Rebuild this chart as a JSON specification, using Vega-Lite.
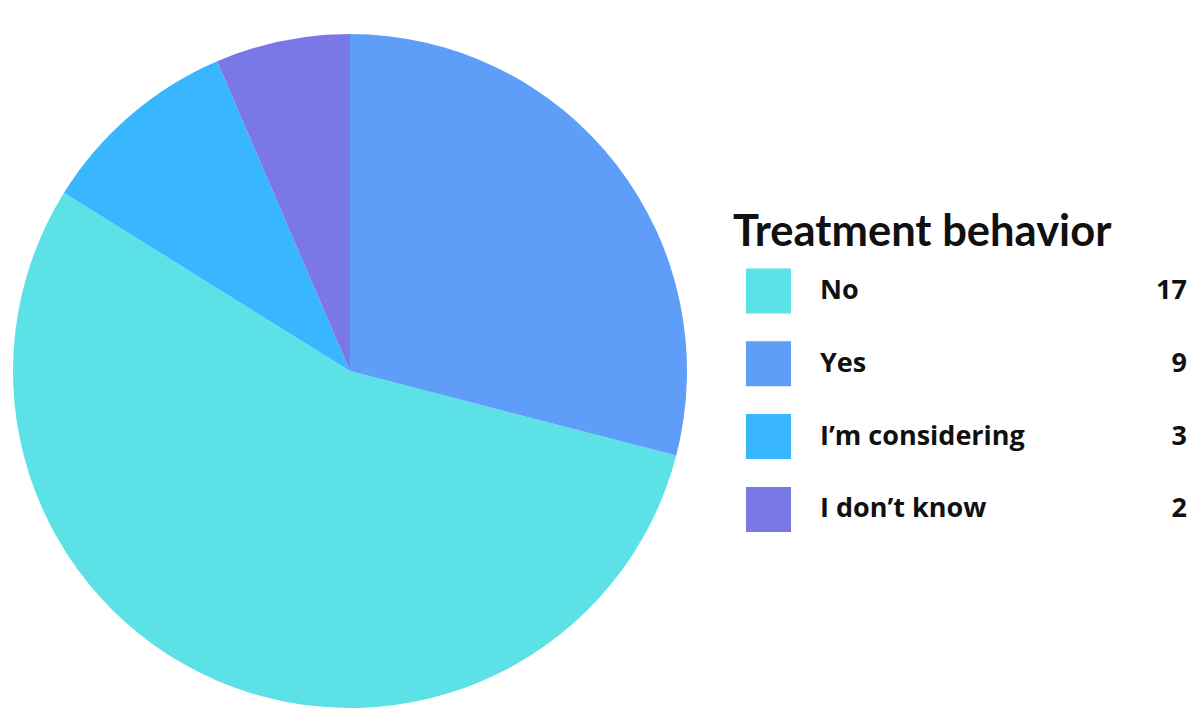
{
  "$schema": "https://vega.github.io/schema/vega-lite/v6.json",
  "padding": 0,
  "background": "white",
  "spacing": 33,
  "config": {"view": {"stroke": null}, "font": "Open Sans"},
  "data": {
    "values": [
      {"category": "No", "count": 17},
      {"category": "Yes", "count": 9},
      {"category": "I’m considering", "count": 3},
      {"category": "I don’t know", "count": 2}
    ]
  },
  "hconcat": [
    {
      "width": 700,
      "height": 742,
      "transform": [
        {"calculate": "indexof(['Yes','No','I’m considering','I don’t know'], datum.category)", "as": "pieOrder"}
      ],
      "mark": {"type": "arc", "outerRadius": 337},
      "encoding": {
        "theta": {"field": "count", "type": "quantitative", "stack": true},
        "order": {"field": "pieOrder", "type": "quantitative", "sort": "ascending"},
        "color": {
          "field": "category",
          "type": "nominal",
          "scale": {
            "domain": ["No", "Yes", "I’m considering", "I don’t know"],
            "range": ["#5CE1E6", "#5E9EF8", "#38B6FF", "#7978E6"]
          },
          "legend": null
        }
      }
    },
    {
      "width": 462,
      "height": 742,
      "title": {
        "text": "Treatment behavior",
        "anchor": "start",
        "fontSize": 43.5,
        "fontWeight": "bold",
        "font": "Lato",
        "color": "#111111",
        "baseline": "alphabetic",
        "offset": -289
      },
      "encoding": {
        "y": {
          "field": "category",
          "type": "nominal",
          "sort": ["No", "Yes", "I’m considering", "I don’t know"],
          "axis": null,
          "scale": {"type": "band", "paddingInner": 0, "paddingOuter": 0, "range": [254.6, 545.8]}
        }
      },
      "layer": [
        {
          "mark": {"type": "point", "shape": "square", "filled": true, "opacity": 1, "size": 2025},
          "encoding": {
            "x": {"value": 35.5},
            "color": {
              "field": "category",
              "type": "nominal",
              "scale": {
                "domain": ["No", "Yes", "I’m considering", "I don’t know"],
                "range": ["#5CE1E6", "#5E9EF8", "#38B6FF", "#7978E6"]
              },
              "legend": null
            }
          }
        },
        {
          "mark": {"type": "text", "align": "left", "baseline": "middle", "fontSize": 27, "fontWeight": "bold", "font": "Open Sans", "color": "#111111"},
          "encoding": {
            "x": {"value": 87},
            "text": {"field": "category", "type": "nominal"}
          }
        },
        {
          "mark": {"type": "text", "align": "right", "baseline": "middle", "fontSize": 27, "fontWeight": "bold", "font": "Open Sans", "color": "#111111"},
          "encoding": {
            "x": {"value": 454},
            "text": {"field": "count", "type": "quantitative"}
          }
        }
      ]
    }
  ]
}
